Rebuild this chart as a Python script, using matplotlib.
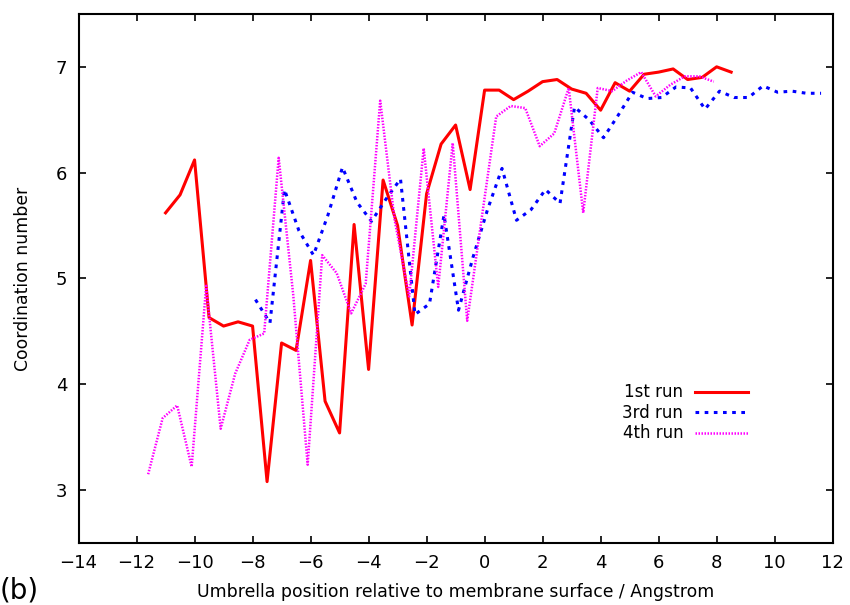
import matplotlib
matplotlib.use("Agg")
import matplotlib.pyplot as plt

# 1st run (red, solid)
run1_x = [-11.0, -10.5, -10.0, -9.5, -9.0, -8.5, -8.0, -7.5, -7.0, -6.5,
          -6.0, -5.5, -5.0, -4.5, -4.0, -3.5, -3.0, -2.5, -2.0, -1.5,
          -1.0, -0.5, 0.0, 0.5, 1.0, 1.5, 2.0, 2.5, 3.0, 3.5,
          4.0, 4.5, 5.0, 5.5, 6.0, 6.5, 7.0, 7.5, 8.0, 8.5]
run1_y = [5.62, 5.79, 6.12, 4.63, 4.55, 4.59, 4.55, 3.08, 4.39, 4.32,
          5.17, 3.84, 3.54, 5.51, 4.14, 5.93, 5.50, 4.56, 5.80, 6.27,
          6.45, 5.84, 6.78, 6.78, 6.69, 6.77, 6.86, 6.88, 6.79, 6.75,
          6.59, 6.85, 6.77, 6.93, 6.95, 6.98, 6.88, 6.90, 7.00, 6.95]

# 3rd run (blue, dashed dots)
run3_x = [-7.9, -7.4, -6.9, -6.4, -5.9, -5.4, -4.9, -4.4, -3.9, -3.4,
          -2.9, -2.4, -1.9, -1.4, -0.9, -0.4, 0.1, 0.6, 1.1, 1.6,
          2.1, 2.6, 3.1, 3.6, 4.1, 4.6, 5.1, 5.6, 6.1, 6.6,
          7.1, 7.6, 8.1, 8.6, 9.1, 9.6, 10.1, 10.6, 11.1, 11.6]
run3_y = [4.80, 4.58, 5.84, 5.45, 5.22, 5.60, 6.05, 5.72, 5.54, 5.75,
          5.94, 4.66, 4.76, 5.60, 4.70, 5.20, 5.65, 6.04, 5.55, 5.65,
          5.84, 5.71, 6.62, 6.50, 6.33, 6.54, 6.76, 6.70, 6.71, 6.81,
          6.80, 6.60, 6.77, 6.71, 6.71, 6.82, 6.76, 6.77, 6.75, 6.75]

# 4th run (magenta, fine dots)
run4_x = [-11.6, -11.1, -10.6, -10.1, -9.6, -9.1, -8.6, -8.1, -7.6, -7.1,
          -6.6, -6.1, -5.6, -5.1, -4.6, -4.1, -3.6, -3.1, -2.6, -2.1,
          -1.6, -1.1, -0.6, -0.1, 0.4, 0.9, 1.4, 1.9, 2.4, 2.9,
          3.4, 3.9, 4.4, 4.9, 5.4, 5.9, 6.4, 6.9, 7.4, 7.9]
run4_y = [3.15, 3.68, 3.80, 3.22, 4.93, 3.58, 4.10, 4.42, 4.48, 6.14,
          4.85, 3.24, 5.22, 5.05, 4.67, 4.95, 6.68, 5.55, 4.83, 6.23,
          4.92, 6.28, 4.60, 5.57, 6.53, 6.63, 6.61, 6.25, 6.37, 6.80,
          5.62, 6.80, 6.77, 6.87, 6.95, 6.72, 6.83, 6.91, 6.91, 6.86]

x_ticks = [-14, -12, -10, -8, -6, -4, -2, 0, 2, 4, 6, 8, 10, 12]
y_ticks = [3, 4, 5, 6, 7]

fig = plt.figure(figsize=(8.5, 6.05), dpi=100)
ax = fig.add_axes([0.0924, 0.1025, 0.8872, 0.8745])

ax.plot(run1_x, run1_y, color="red", lw=2.2, label="1st run")
ax.plot(run3_x, run3_y, color="blue", lw=2.2, ls=(0, (1.2, 1.8)),
        label="3rd run")
ax.plot(run4_x, run4_y, color="magenta", lw=1.8, ls=(0, (0.6, 0.6)),
        label="4th run")

ax.set_xlim(-14, 12)
ax.set_ylim(2.5, 7.5)
ax.set_xticks(x_ticks)
ax.set_yticks(y_ticks)
ax.tick_params(direction="in", length=5, width=1.2, top=True, right=True,
               labelsize=13, pad=8)
for sp in ax.spines.values():
    sp.set_linewidth(1.5)

ax.set_xlabel("Umbrella position relative to membrane surface / Angstrom",
              fontsize=12.4, labelpad=8)
ax.set_ylabel("Coordination number", fontsize=12.4, labelpad=17)

ax.legend(loc="center right", bbox_to_anchor=(0.888, 0.246), frameon=False,
          markerfirst=False, fontsize=12, handlelength=3.2,
          labelspacing=0.15, borderpad=0, borderaxespad=0,
          handletextpad=0.7)

fig.text(0.0, 0.0, "(b)", fontsize=20, ha="left", va="bottom")

fig.savefig("out.png", dpi=100)
